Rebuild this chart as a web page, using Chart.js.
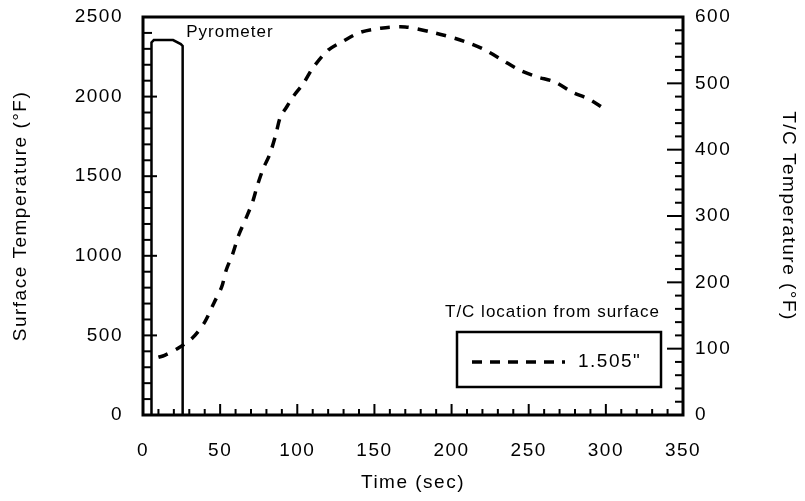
<!DOCTYPE html>
<html>
<head>
<meta charset="utf-8">
<script src="https://cdn.jsdelivr.net/npm/chart.js@4/dist/chart.umd.min.js"></script>
<style>
  body { margin: 0; background: #fff; }
  canvas { display: block; }
</style>
</head>
<body>
<canvas id="surface_chart" width="805" height="501"></canvas>
<script>
// pyrometer reading, surface temperature (left axis, °F)
const pyro_time = [5.5, 5.5, 7, 19.5, 24.5, 25.7, 25.7];
const pyro_temp = [0, 2340, 2355, 2355, 2330, 2318, 0];

// thermocouple 1.505" below surface (right axis, °F)
const tc_time = [10, 14, 23, 32, 40, 46, 51, 54, 58, 62, 67, 71, 74, 78, 82, 86, 89, 93, 97, 104, 110, 120, 130, 141, 154, 170, 189, 202, 211, 222, 233, 244, 255, 267, 278, 290, 300];
const tc_temp = [87, 90, 101, 116, 140, 169, 193, 219, 242, 271, 298, 321, 345, 372, 392, 422, 449, 464, 479, 500, 523, 550, 564, 577, 583, 585, 576, 568, 561, 550, 535, 520, 510, 502, 487, 475, 460];

const x_ticks = [0, 50, 100, 150, 200, 250, 300, 350];
const left_ticks = [0, 500, 1000, 1500, 2000, 2500];
const right_ticks = [0, 100, 200, 300, 400, 500, 600];

const legend_title = "T/C location from surface";
const legend_label = '1.505"';

const font_family = "'Liberation Sans', Arial, Helvetica, sans-serif";
const base_font = { family: font_family, size: 19 };

function to_points(xs, ys) {
    return xs.map((x, i) => ({ x: x, y: ys[i] }));
}

function tick_line(ctx, x1, y1, x2, y2) {
    ctx.beginPath();
    ctx.moveTo(x1, y1);
    ctx.lineTo(x2, y2);
    ctx.stroke();
}

// keep tick padding from pushing the plot box down
function fix_vertical(scale, width) {
    scale.width = width;
    scale.paddingTop = 0;
    scale.paddingBottom = 0;
}

// the scanned lettering is set rather loose
const spacing_plugin = {
    id: 'spacing_plugin',
    beforeDraw(chart) {
        chart.ctx.letterSpacing = '1.5px';
    }
};

const frame_plugin = {
    id: 'frame_plugin',
    afterDatasetsDraw(chart) {
        const { ctx, chartArea: a, scales } = chart;
        ctx.save();
        ctx.strokeStyle = '#000';
        ctx.lineWidth = 2;

        // inward ticks, minor + major
        for (let v = 0; v <= 350; v += 10) {
            const px = scales.x.getPixelForValue(v);
            tick_line(ctx, px, a.bottom, px, a.bottom - (v % 50 === 0 ? 11 : 6));
        }
        for (let v = 0; v <= 2500; v += 100) {
            const py = scales.y.getPixelForValue(v);
            tick_line(ctx, a.left, py, a.left + (v % 500 === 0 ? 14 : 9), py);
        }
        for (let v = 0; v <= 600; v += 20) {
            const py = scales.y2.getPixelForValue(v);
            tick_line(ctx, a.right, py, a.right - (v % 100 === 0 ? 16 : 8), py);
        }

        // plot frame
        ctx.lineWidth = 3;
        ctx.strokeRect(a.left, a.top, a.right - a.left, a.bottom - a.top);

        // pyrometer label
        ctx.fillStyle = '#000';
        ctx.letterSpacing = '1px';
        ctx.font = "17px " + font_family;
        ctx.textBaseline = 'middle';
        ctx.textAlign = 'left';
        ctx.fillText('Pyrometer', scales.x.getPixelForValue(28), 32);

        // legend
        const bx = a.right - 226, by = 332, bw = 204, bh = 55;
        ctx.fillText(legend_title, a.right - 238, 312);
        ctx.lineWidth = 2.5;
        ctx.strokeRect(bx, by, bw, bh);
        ctx.setLineDash([10, 8]);
        ctx.lineWidth = 3.5;
        tick_line(ctx, bx + 15, 362, bx + 108, 362);
        ctx.setLineDash([]);
        ctx.letterSpacing = '1.5px';
        ctx.font = "19px " + font_family;
        ctx.fillText(legend_label, bx + 121, 362);
        ctx.restore();
    }
};

const chart = new Chart(document.getElementById('surface_chart'), {
    type: 'line',
    data: {
        datasets: [
            {
                label: 'Pyrometer',
                data: to_points(pyro_time, pyro_temp),
                yAxisID: 'y',
                borderColor: '#000',
                borderWidth: 2.5,
                pointRadius: 0,
                tension: 0,
                fill: false
            },
            {
                label: legend_label,
                data: to_points(tc_time, tc_temp),
                yAxisID: 'y2',
                borderColor: '#000',
                borderWidth: 3.5,
                borderDash: [10, 9],
                pointRadius: 0,
                tension: 0.3,
                fill: false
            }
        ]
    },
    options: {
        responsive: false,
        animation: false,
        layout: { padding: { top: 17 } },
        plugins: { legend: { display: false }, tooltip: { enabled: false } },
        scales: {
            x: {
                type: 'linear',
                min: 0, max: 350,
                grid: { display: false, drawTicks: false },
                border: { display: false },
                afterBuildTicks(scale) { scale.ticks = x_ticks.map(v => ({ value: v })); },
                ticks: { color: '#000', font: base_font, padding: 24, maxRotation: 0, callback: v => String(v) },
                title: { display: true, text: 'Time (sec)', color: '#000', font: base_font, padding: { top: 0, bottom: 7 } },
                afterFit(scale) { scale.height = 86; scale.paddingLeft = 0; scale.paddingRight = 0; }
            },
            y: {
                position: 'left',
                min: 0, max: 2500,
                grid: { display: false, drawTicks: false },
                border: { display: false },
                afterBuildTicks(scale) { scale.ticks = left_ticks.map(v => ({ value: v })); },
                ticks: { color: '#000', font: base_font, padding: 20, callback: v => String(v) },
                title: { display: true, text: 'Surface Temperature (°F)', color: '#000', font: base_font, padding: { top: 9, bottom: 0 } },
                afterFit(scale) { fix_vertical(scale, 143); }
            },
            y2: {
                position: 'right',
                min: 0, max: 600,
                grid: { display: false, drawTicks: false },
                border: { display: false },
                afterBuildTicks(scale) { scale.ticks = right_ticks.map(v => ({ value: v })); },
                ticks: { color: '#000', font: base_font, padding: 12, callback: v => String(v) },
                title: { display: true, text: 'T/C Temperature (°F)', color: '#000', font: base_font, padding: { top: 5, bottom: 0 } },
                afterFit(scale) { fix_vertical(scale, 122); }
            }
        }
    },
    plugins: [spacing_plugin, frame_plugin]
});
</script>
</body>
</html>
